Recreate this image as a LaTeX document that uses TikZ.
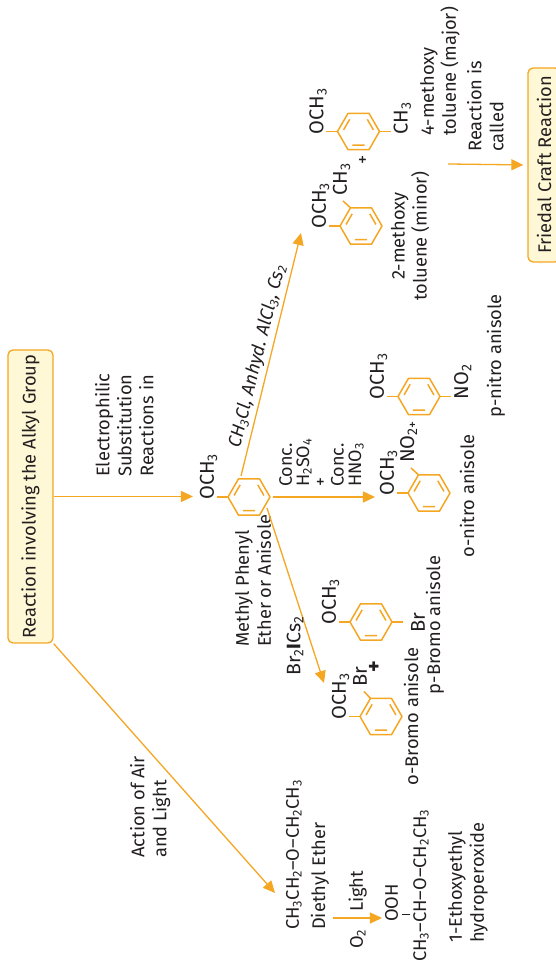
\documentclass[tikz,border=0pt]{standalone}
\usepackage{fontspec}
\setmainfont{Fira Sans}
\usepackage{tikz}
\usetikzlibrary{arrows.meta}
\definecolor{rxorange}{RGB}{245,166,35}
\definecolor{rxcream}{RGB}{255,248,214}
\definecolor{rxtext}{RGB}{35,31,32}
\newcommand{\chs}[1]{\textsubscript{#1}}

\tikzset{
  arr/.style={rxorange, line width=1.3pt, -{Triangle[length=12pt,width=11pt]}},
  bond/.style={rxorange, line width=1.5pt},
  box/.style={draw=rxorange, fill=rxcream, line width=1.3pt, rounded corners=5pt,
    minimum width=293pt, minimum height=45pt, inner sep=0pt, text=rxtext,
    font=\fontsize{18.3}{22}\selectfont},
  txt/.style={text=rxtext, inner sep=0pt, font=\fontsize{18.3}{22}\selectfont, align=left},
  chem/.style={txt, font=\fontsize{20}{22}\selectfont},
  lbl/.style={text=rxtext, inner sep=3pt, font=\fontsize{18.3}{22}\selectfont\itshape},
  benzene/.pic={
    \draw[bond, line join=round] (90:21) -- (30:21) -- (-30:21) -- (-90:21) -- (-150:21) -- (150:21) -- cycle;
    \draw[bond] (84:15) -- (36:15) (-36:15) -- (-84:15) (156:15) -- (204:15);
  }
}

\begin{document}
\begin{tikzpicture}[x=1pt, y=1pt, rotate=90, transform shape]
\useasboundingbox (0,0) rectangle (965,556);

\node[box] (alkyl) at (468.5,525.5) {Reaction involving the Alkyl Group};
\node[box, minimum width=194pt, minimum height=32pt] (friedel) at (800,12) {Friedal Craft Reaction};

% anisole
\begin{scope}[shift={(468,307)}]
\pic {benzene};
\draw[bond] (0,21) -- (0,32);
\node[chem, anchor=base west] (och0) at (-3,35) {OCH\chs{3}};
\coordinate (s1) at (21,8);
\coordinate (s2) at (0,-24);
\coordinate (s3) at (-11,-18);
\end{scope}
\coordinate (e0) at (468.5,363);
\draw[arr] (alkyl.south) -- (e0);
\node[txt, anchor=north west] (esr) at (488,461) {Electrophilic\\Substitution\\Reactions in};
\node[txt, anchor=north west] (mpe) at (318,321) {Methyl Phenyl\\Ether or Anisole};

% Friedel Crafts
\coordinate (e1) at (732,255);
\draw[arr] (s1) -- node[lbl, sloped, above, pos=0.48] {CH\chs{3}Cl, Anhyd. AlCl\chs{3}, Cs\chs{2}} (e1);

\begin{scope}[shift={(739,195)}]
\pic {benzene};
\draw[bond] (0,21) -- (0,32);
\node[chem, anchor=base west] (och1) at (-3,35) {OCH\chs{3}};
\draw[bond] (30:21) -- (25,18);
\node[chem, anchor=base west] (ch1) at (30,14) {CH\chs{3}};
\end{scope}
\node[txt] (plus2) at (805,192) {+};
\node[txt, align=center] (mtol) at (729,146) {2-methoxy\\toluene (minor)};

\begin{scope}[shift={(833.5,197.5)}]
\pic {benzene};
\draw[bond] (0,21) -- (0,32);
\node[chem, anchor=base west] (och4) at (-3,35) {OCH\chs{3}};
\draw[bond] (0,-21) -- (0,-32);
\node[chem, anchor=north west] (ch4) at (-3,-35) {CH\chs{3}};
\end{scope}
\node[txt, anchor=north west] (ptol) at (829,136) {4-methoxy\\toluene (major)};
\node[txt, anchor=north west] (called) at (813,89) {Reaction is\\called};
\coordinate (s6) at (801,108);
\draw[arr, shorten >=4pt] (s6) -- (friedel.north);

% nitration
\coordinate (e2) at (468,181);
\draw[arr] (s2) -- (e2);
\node[txt, anchor=north west, font=\fontsize{18}{17.3}\selectfont] (conc) at (478,277) {Conc.\\H\chs{2}SO\chs{4}\\+\\Conc.\\HNO\chs{3}};

\begin{scope}[shift={(472,127)}]
\pic {benzene};
\draw[bond] (0,21) -- (0,32);
\node[chem, anchor=base west] (och2) at (-3,35) {OCH\chs{3}};
\draw[bond] (30:21) -- (25,18);
\node[chem, anchor=base west] (no2o) at (30,15) {NO\chs{2+}};
\end{scope}
\node[txt] (onit) at (469,89) {o-nitro anisole};

\begin{scope}[shift={(568.5,137)}]
\pic {benzene};
\draw[bond] (0,21) -- (0,32);
\node[chem, anchor=base west] (och3) at (-3,35) {OCH\chs{3}};
\draw[bond] (0,-21) -- (0,-32);
\node[chem, anchor=north west] (no2p) at (-3,-35) {NO\chs{2}};
\end{scope}
\node[txt] (pnit) at (609,60) {p-nitro anisole};

% bromination
\coordinate (e3) at (282,232);
\draw[arr] (s3) -- (e3);
\node[chem, font=\fontsize{19.5}{22}\selectfont] (brcs) at (319,261) {Br\chs{2}{\bfseries I}Cs\chs{2}};

\begin{scope}[shift={(248.5,175)}]
\pic {benzene};
\draw[bond] (0,21) -- (0,32);
\node[chem, anchor=base west] (och5) at (-3,35) {OCH\chs{3}};
\draw[bond] (30:21) -- (25,17);
\node[chem, anchor=base west] (bro) at (30,14) {Br};
\end{scope}
\node[chem, font=\fontsize{22}{22}\selectfont\bfseries] (plus1) at (298,181) {+};
\node[txt] (obro) at (248.5,145) {o-Bromo anisole};

\begin{scope}[shift={(343,185)}]
\pic {benzene};
\draw[bond] (0,21) -- (0,32);
\node[chem, anchor=base west] (och6) at (-3,35) {OCH\chs{3}};
\draw[bond] (0,-21) -- (0,-32);
\node[chem, anchor=north] (brp) at (-1,-40) {Br};
\end{scope}
\node[txt] (pbro) at (340,121) {p-Bromo anisole};

% ether
\coordinate (e4) at (72,281);
\draw[arr] (alkyl.south west) -- (e4);
\node[txt, anchor=north west] (air) at (107,426) {Action of Air\\and Light};
\node[txt, anchor=west] (dee) at (35,262) {CH\chs{3}CH\chs{2}--O--CH\chs{2}CH\chs{3}};
\node[txt, anchor=west] (deen) at (35,236) {Diethyl Ether};
\coordinate (s5) at (47,223);
\coordinate (e5) at (47,174);
\draw[arr] (s5) -- (e5);
\node[txt, anchor=base west] (light) at (53,193) {Light};
\node[txt, anchor=base east] (otwo) at (36,193) {O\chs{2}};
\node[txt, anchor=base west] (ooh) at (43,158) {OOH};
\draw[rxtext, line width=1pt] (50,146) -- (50,154);
\node[txt, anchor=base west] (hp) at (3,130) {CH\chs{3}--CH--O--CH\chs{2}CH\chs{3}};
\node[txt, anchor=north west] (hpn) at (22,108) {1-Ethoxyethyl\\hydroperoxide};
\end{tikzpicture}
\end{document}
